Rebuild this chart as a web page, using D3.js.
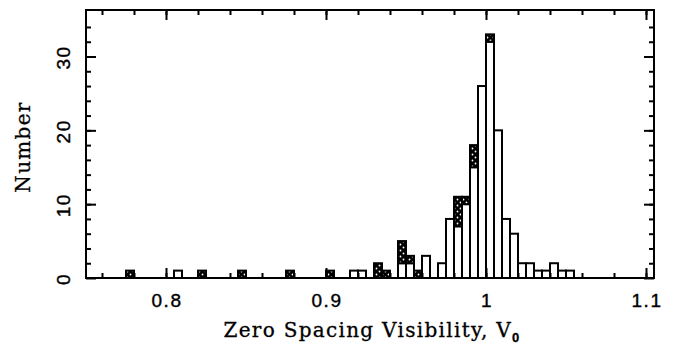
<!DOCTYPE html>
<html>
<head>
<meta charset="utf-8">
<script src="https://cdn.jsdelivr.net/npm/d3@7"></script>
<style>
  body { margin: 0; background: #fff; }
  svg { display: block; }
  .tick-label { font-family: "Liberation Sans", Arial, sans-serif; font-size: 19px; letter-spacing: 1.5px; fill: #000; stroke: #000; stroke-width: 0.4px; }
  .axis-title { font-family: "DejaVu Serif", serif; font-size: 20px; letter-spacing: 1.3px; fill: #000; stroke: #000; stroke-width: 0.3px; }
</style>
</head>
<body>
<div id="chart"></div>
<script>
// histogram bins (left edge of each 0.005 bin) and counts
const binStarts = [0.775, 0.805, 0.82, 0.845, 0.875, 0.9, 0.915, 0.92, 0.93, 0.935,
                   0.945, 0.95, 0.955, 0.96, 0.97, 0.975, 0.98, 0.985, 0.99, 0.995,
                   1.0, 1.005, 1.01, 1.015, 1.02, 1.025, 1.03, 1.035, 1.04, 1.045, 1.05];
const openCounts = [0, 1, 0, 0, 0, 0, 1, 1, 0, 0,
                    2, 2, 0, 3, 2, 8, 7, 10, 15, 26,
                    32, 20, 8, 6, 2, 2, 1, 1, 2, 1, 1];
const hatchedCounts = [1, 0, 1, 1, 1, 1, 0, 0, 2, 1,
                       3, 1, 1, 0, 0, 0, 4, 1, 3, 0,
                       1, 0, 0, 0, 0, 0, 0, 0, 0, 0, 0];
const binWidth = 0.005;

const xMajor = [0.8, 0.9, 1.0, 1.1];
const xLabels = ["0.8", "0.9", "1", "1.1"];
const yMajor = [0, 10, 20, 30];
const yLabels = ["0", "10", "20", "30"];

const W = 683, H = 358;
const plot = {left: 86, right: 654, top: 10, bottom: 278};

const svg = d3.select("#chart").append("svg")
    .attr("width", W)
    .attr("height", H);

// dotted cross-hatch fill
const defs = svg.append("defs");
const pat = defs.append("pattern")
    .attr("id", "hatch")
    .attr("patternUnits", "userSpaceOnUse")
    .attr("width", 6)
    .attr("height", 6);
pat.append("rect").attr("width", 6).attr("height", 6).attr("fill", "#000");
pat.append("circle").attr("cx", 1.5).attr("cy", 1.5).attr("r", 0.9).attr("fill", "#fff");
pat.append("circle").attr("cx", 4.5).attr("cy", 4.5).attr("r", 0.9).attr("fill", "#fff");

const x = d3.scaleLinear().domain([0.75, 1.105]).range([plot.left, plot.right]);
const y = d3.scaleLinear().domain([0, 36.3]).range([plot.bottom, plot.top]);

const bins = binStarts.map((b, i) => ({x0: b, open: openCounts[i], hatched: hatchedCounts[i]}));

// open part of each bar
svg.append("g").selectAll("rect")
    .data(bins.filter(d => d.open > 0))
    .join("rect")
    .attr("x", d => x(d.x0))
    .attr("width", d => x(d.x0 + binWidth) - x(d.x0))
    .attr("y", d => y(d.open))
    .attr("height", d => y(0) - y(d.open))
    .attr("fill", "#fff")
    .attr("stroke", "#000")
    .attr("stroke-width", 2);

// hatched part stacked on top
svg.append("g").selectAll("rect")
    .data(bins.filter(d => d.hatched > 0))
    .join("rect")
    .attr("x", d => x(d.x0))
    .attr("width", d => x(d.x0 + binWidth) - x(d.x0))
    .attr("y", d => y(d.open + d.hatched))
    .attr("height", d => y(d.open) - y(d.open + d.hatched))
    .attr("fill", "url(#hatch)")
    .attr("stroke", "#000")
    .attr("stroke-width", 2);

// ticks, all pointing inwards
function tickAxis(axis, transform) {
    const g = svg.append("g").attr("transform", transform).call(axis);
    g.select(".domain").remove();
    g.selectAll("line").attr("stroke", "#000").attr("stroke-width", 2);
    g.selectAll("text").remove();
}
const xMinor = d3.range(0.76, 1.1, 0.02);
const yMinor = d3.range(2, 36, 2);

tickAxis(d3.axisBottom(x).tickValues(xMajor).tickSize(-10), `translate(0,${plot.bottom})`);
tickAxis(d3.axisBottom(x).tickValues(xMinor).tickSize(-5), `translate(0,${plot.bottom})`);
tickAxis(d3.axisTop(x).tickValues(xMajor).tickSize(-10), `translate(0,${plot.top})`);
tickAxis(d3.axisTop(x).tickValues(xMinor).tickSize(-5), `translate(0,${plot.top})`);
tickAxis(d3.axisLeft(y).tickValues(yMajor).tickSize(-10), `translate(${plot.left},0)`);
tickAxis(d3.axisLeft(y).tickValues(yMinor).tickSize(-5), `translate(${plot.left},0)`);
tickAxis(d3.axisRight(y).tickValues(yMajor).tickSize(-10), `translate(${plot.right},0)`);
tickAxis(d3.axisRight(y).tickValues(yMinor).tickSize(-5), `translate(${plot.right},0)`);

// frame
svg.append("rect")
    .attr("x", plot.left)
    .attr("y", plot.top)
    .attr("width", plot.right - plot.left)
    .attr("height", plot.bottom - plot.top)
    .attr("fill", "none")
    .attr("stroke", "#000")
    .attr("stroke-width", 2);

// tick labels
svg.append("g").selectAll("text")
    .data(xMajor)
    .join("text")
    .attr("class", "tick-label")
    .attr("x", d => x(d) + 1)
    .attr("y", 307)
    .attr("text-anchor", "middle")
    .text((d, i) => xLabels[i]);

svg.append("g").selectAll("text")
    .data(yMajor)
    .join("text")
    .attr("class", "tick-label")
    .attr("transform", d => `translate(70,${y(d) + 1}) rotate(-90)`)
    .attr("text-anchor", "middle")
    .text((d, i) => yLabels[i]);

// axis titles
const xt = svg.append("text")
    .attr("class", "axis-title")
    .attr("x", 372)
    .attr("y", 337)
    .attr("text-anchor", "middle");
xt.append("tspan").text("Zero Spacing Visibility, V");
xt.append("tspan").attr("dy", 5).attr("font-size", 13).attr("font-family", "Liberation Sans, sans-serif").attr("font-weight", "bold").text("0");

svg.append("text")
    .attr("class", "axis-title")
    .attr("transform", `translate(30,${(plot.top + plot.bottom) / 2 + 3}) rotate(-90)`)
    .attr("text-anchor", "middle")
    .text("Number");
</script>
</body>
</html>
